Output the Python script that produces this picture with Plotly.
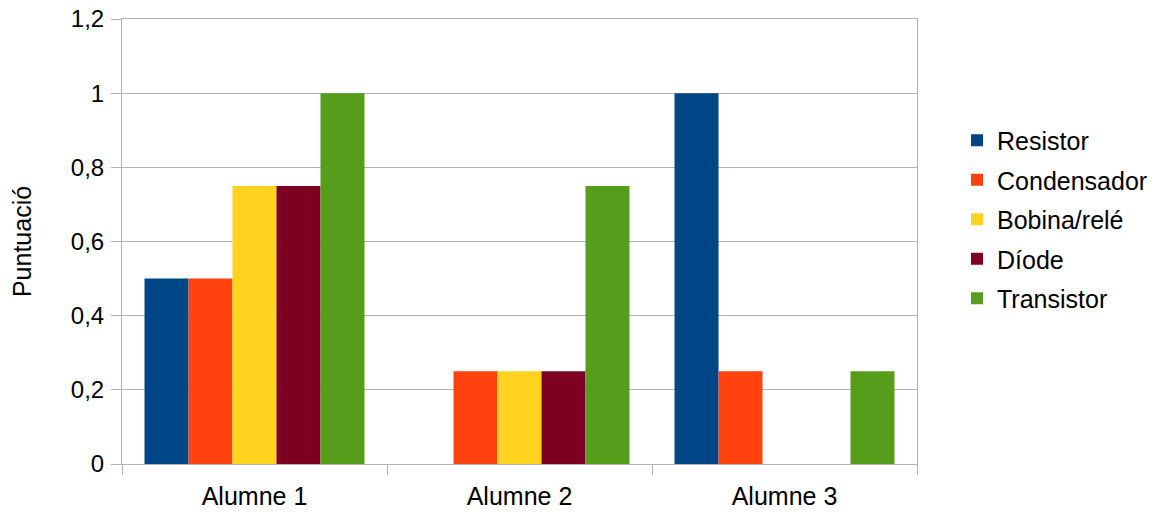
import plotly.graph_objects as go

categories = ["Alumne 1", "Alumne 2", "Alumne 3"]
series_names = ["Resistor", "Condensador", "Bobina/relé", "Díode", "Transistor"]
resistor = [0.5, 0, 1]
condensador = [0.5, 0.25, 0.25]
bobina = [0.75, 0.25, 0]
diode = [0.75, 0.25, 0]
transistor = [1, 0.75, 0.25]
colors = ["#004586", "#ff420e", "#ffd320", "#7e0021", "#579d1c"]
y_ticks = [0, 0.2, 0.4, 0.6, 0.8, 1.0, 1.2]

fig = go.Figure()
for i, (name, vals) in enumerate(zip(series_names, [resistor, condensador, bobina, diode, transistor])):
    fig.add_trace(go.Bar(x=categories, y=vals, name=name, marker_color=colors[i],
                         marker_line_width=0, legendgroup=name))

font = dict(family="Liberation Sans, Arial, sans-serif", size=25, color="black")
fig.update_layout(
    width=1162, height=517,
    margin=dict(l=122, r=245, t=19, b=53, autoexpand=False),
    paper_bgcolor="white", plot_bgcolor="white",
    font=font,
    separators=",.",
    barmode="group", bargap=0.17, bargroupgap=0,
    legend=dict(xref="container", yref="container", x=0.8236, y=0.5754,
                yanchor="middle", xanchor="left",
                traceorder="grouped", tracegroupgap=4, font=font),
    xaxis=dict(showline=True, mirror=True, linecolor="#b3b3b3", linewidth=1, automargin=False,
               ticks="outside", tickson="boundaries", ticklen=10, tickcolor="#b3b3b3",
               showgrid=False, tickfont=dict(size=25), ticklabelstandoff=10),
    yaxis=dict(title=dict(text="Puntuació", standoff=32, font=dict(size=25)), range=[0, 1.2],
               tickvals=y_ticks, automargin=False, tickfont=dict(size=24), ticklabelstandoff=2,
               ticklabeloverflow="allow",
               showline=True, mirror=True, linecolor="#b3b3b3", linewidth=1,
               ticks="outside", ticklen=10, tickcolor="#b3b3b3",
               gridcolor="#b3b3b3", gridwidth=1, zeroline=False),
)
fig.write_html("out.html", config={"displayModeBar": False},
               post_script="document.body.style.margin='0';")
